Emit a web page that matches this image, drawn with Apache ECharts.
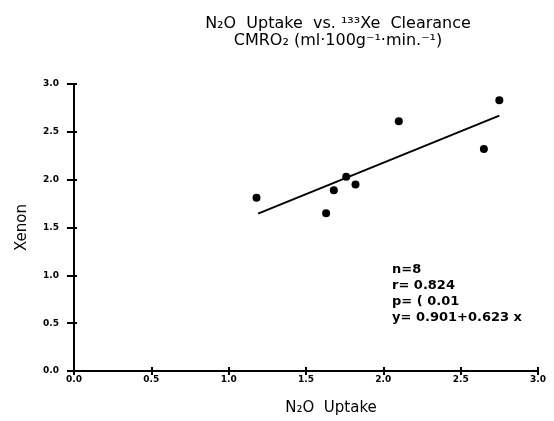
<!DOCTYPE html>
<html><head><meta charset="utf-8">
<script src="https://cdn.jsdelivr.net/npm/echarts@6/dist/echarts.min.js"></script>
<style>html,body{margin:0;padding:0;background:#fff}#c{width:554px;height:421px}</style>
</head><body><div id="c"></div>
<script>
var uptake = [1.18, 1.63, 1.68, 1.76, 1.82, 2.10, 2.65, 2.75];
var xenon  = [1.81, 1.65, 1.89, 2.03, 1.95, 2.61, 2.32, 2.83];
var fitX = [1.19, 2.75];
var fitY = [1.645, 2.67];
var xTicks = [0, 0.5, 1.0, 1.5, 2.0, 2.5, 3.0];
var yTicks = [0, 0.5, 1.0, 1.5, 2.0, 2.5, 3.0];
var statsLines = ['n=8', 'r= 0.824', 'p= ( 0.01', 'y= 0.901+0.623 x'];

var pts = uptake.map(function(x,i){return [x, xenon[i]];});
var fit = fitX.map(function(x,i){return [x, fitY[i]];});
var font = 'DejaVu Sans';
function lbl(margin){return {color:'#000', fontFamily:font, fontWeight:'bold', fontSize:9, margin:margin, formatter:function(v){return v.toFixed(1);}};}
var axLine = {lineStyle:{color:'#000', width:2}};
var chart = echarts.init(document.getElementById('c'));
chart.setOption({
  animation:false,
  title:{
    text:'N\u2082O  Uptake  vs. \u00b9\u00b3\u00b3Xe  Clearance\nCMRO\u2082 (ml\u00b7100g\u207b\u00b9\u00b7min.\u207b\u00b9)',
    left:333, top:10, textAlign:'center',
    textStyle:{fontFamily:font, fontSize:16, fontWeight:'normal', color:'#000', lineHeight:17}
  },
  grid:{left:74, right:16, top:84, bottom:46},
  xAxis:[{
    type:'value', min:0, max:3, interval:0.5,
    axisLine:axLine, axisTick:{show:true, length:4, lineStyle:{color:'#000', width:2}},
    axisLabel:lbl(4), splitLine:{show:false},
    name:'N\u2082O  Uptake', nameLocation:'middle', nameGap:30,
    nameTextStyle:{fontFamily:font, fontSize:15, color:'#000', padding:[0,0,0,50]}
  },{
    type:'value', min:0, max:3, interval:0.5, position:'bottom',
    axisLine:{show:false}, axisTick:{show:true, inside:true, length:4, lineStyle:{color:'#000', width:2}},
    axisLabel:{show:false}, splitLine:{show:false}
  }],
  yAxis:[{
    type:'value', min:0, max:3, interval:0.5,
    axisLine:axLine, axisTick:{show:true, length:7, lineStyle:{color:'#000', width:2}},
    axisLabel:lbl(15), splitLine:{show:false},
    name:'Xenon', nameLocation:'middle', nameGap:44, nameRotate:90,
    nameTextStyle:{fontFamily:font, fontSize:15, color:'#000'}
  },{
    type:'value', min:0, max:3, interval:0.5, position:'left',
    axisLine:{show:false}, axisTick:{show:true, inside:true, length:3, lineStyle:{color:'#000', width:2}},
    axisLabel:{show:false}, splitLine:{show:false}
  }],
  series:[{
    type:'scatter', data:pts, symbol:'circle', symbolSize:8,
    itemStyle:{color:'#000', opacity:1}
  },{
    type:'line', data:fit, symbol:'none', lineStyle:{color:'#000', width:2}
  }],
  graphic:[{
    type:'text', left:392, top:262,
    style:{text:statsLines.join('\n'), font:'bold 13px "DejaVu Sans"', fill:'#000', lineHeight:16}
  }]
});
</script></body></html>
